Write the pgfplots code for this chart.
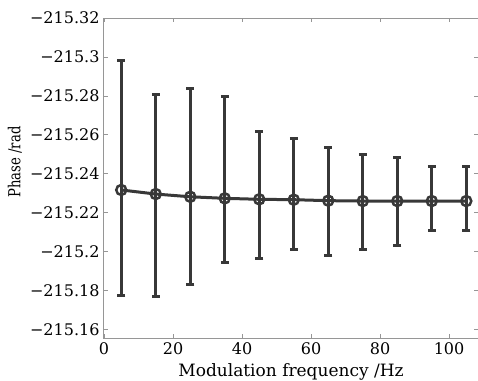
\documentclass[border=0pt]{standalone}
\usepackage{fontspec}
\setmainfont{DejaVu Serif}
\usepackage{pgfplots}
\pgfplotsset{compat=1.18}
\usepackage{pgfplotstable}
\definecolor{lc}{RGB}{56,56,56}
\definecolor{ac}{RGB}{150,150,150}
\pgfplotstableread{
x y ep em
5 -215.2316 0.0541 0.0664
15 -215.2295 0.0527 0.0514
25 -215.2281 0.0451 0.0557
35 -215.2273 0.0332 0.0522
45 -215.2268 0.0304 0.0351
55 -215.2266 0.0254 0.0313
65 -215.2261 0.0284 0.0272
75 -215.2259 0.0250 0.0240
85 -215.2259 0.0227 0.0224
95 -215.2259 0.0149 0.0176
105 -215.2259 0.0149 0.0176
}\datatable
\begin{document}
\begin{tikzpicture}
\clip (-104pt,-42pt) rectangle (374pt,338pt);
\begin{axis}[
  at={(0,0)}, anchor=south west,
  scale only axis, width=374pt, height=320pt,
  xmin=0, xmax=108.4,
  ymin=-215.32, ymax=-215.1555,
  y dir=reverse,
  scaled y ticks=false,
  /pgf/number format/assume math mode=true,
  xtick={0,20,40,60,80,100},
  ytick={-215.32,-215.3,-215.28,-215.26,-215.24,-215.22,-215.2,-215.18,-215.16},
  yticklabels={−215.32,−215.3,−215.28,−215.26,−215.24,−215.22,−215.2,−215.18,−215.16},
  tick align=inside,
  major tick length=4pt,
  tick style={ac, line width=0.6pt},
  axis line style={ac, line width=1pt},
  every tick label/.append style={font=\fontsize{16}{20}\selectfont},
  xticklabel style={yshift=-1pt},
  yticklabel style={xshift=-1pt},
  xlabel={\fontsize{17}{20}\selectfont Modulation frequency /Hz},
  ylabel={\scalebox{0.8}[1]{\fontsize{16.5}{20}\selectfont Phase /rad}},
  xlabel style={at={(axis description cs:0.5,0)}, anchor=north, yshift=-22pt},
  ylabel style={at={(axis description cs:-0.238,0.55)}, anchor=center},
]
\addplot[lc, line width=3pt, mark=o, mark size=5pt, mark options={line width=2.5pt},
  error bars/.cd, y dir=both, y explicit,
  error bar style={lc, line width=3pt},
  error mark options={lc, line width=3pt, mark size=4pt, rotate=90}]
  table[x=x, y=y, y error plus=ep, y error minus=em]{\datatable};
\end{axis}
\end{tikzpicture}
\end{document}
